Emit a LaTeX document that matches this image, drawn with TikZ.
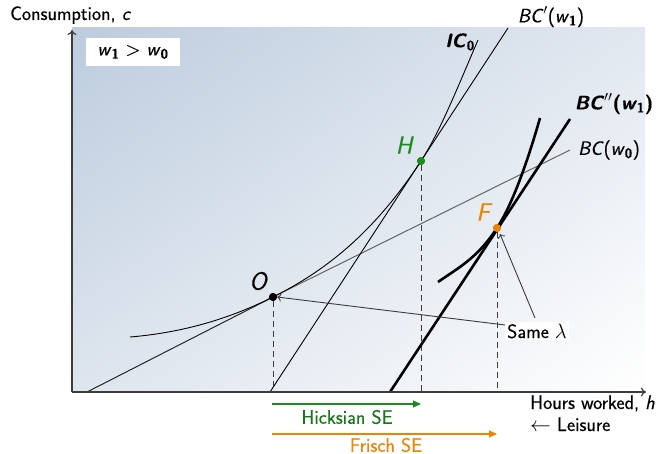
\documentclass[tikz,border=0pt]{standalone}
\usepackage{fontspec}
\setsansfont{Latin Modern Sans}[FakeBold=0.4]
\usetikzlibrary{arrows.meta,shadings}
\definecolor{hgreen}{RGB}{30,140,30}
\definecolor{forange}{RGB}{240,130,0}
\definecolor{axisgray}{RGB}{60,60,60}
\definecolor{bcgray}{RGB}{100,100,100}
\definecolor{bgUL}{RGB}{188,204,222}
\definecolor{bgUR}{RGB}{226,232,240}
\definecolor{bgLL}{RGB}{222,229,238}
\begin{document}
\begin{tikzpicture}[x=1pt,y=-1pt,
  lbl/.style={font=\sffamily\fontsize{19.5}{22}\selectfont, inner sep=1pt},
  ptlbl/.style={font=\sffamily\itshape\fontsize{25}{27}\selectfont, inner sep=1pt},
  axisline/.style={draw=axisgray, line width=1.2pt, -{To[length=5pt,width=9pt]}},
  fineline/.style={draw=black, line width=0.9pt},
  heavyline/.style={draw=black, line width=2.6pt},
  dropline/.style={draw=axisgray, line width=1pt, dash pattern=on 6pt off 4pt},
  pointer/.style={draw=axisgray, line width=0.9pt, -{To[length=4pt,width=8pt]}},
  seline/.style={line width=1.1pt, -{Triangle[length=8pt,width=7pt]}},
  dot/.style={circle, inner sep=0pt, minimum size=8pt},
]
\useasboundingbox (0,0) rectangle (658,454);
% background
\shade[upper left=bgUL, upper right=bgUR, lower left=bgLL, lower right=white] (72,28) rectangle (645,392);

% named coordinates
\coordinate (orig) at (72,392);
\coordinate (ytop) at (72,30);
\coordinate (xend) at (646,392);
\node[dot, fill=black] (O) at (273,297) {};
\node[dot, fill=hgreen] (H) at (421,161) {};
\node[dot, fill=forange] (F) at (497,228) {};
\coordinate (bc0a) at (87,392);
\coordinate (bc0b) at (570,150);
\coordinate (bc1a) at (270,392);
\coordinate (bc1b) at (508,28);
\coordinate (bc2a) at (390,392);
\coordinate (bc2b) at (570,119);
\coordinate (ica) at (130,337);
\coordinate (icb) at (478,40);
\coordinate (fca) at (438,282);
\coordinate (fcb) at (540,118);

% dashed drop lines
\draw[dropline] (O) -- (O |- orig);
\draw[dropline] (H) -- (H |- orig);
\draw[dropline] (F) -- (F |- orig);

% budget constraints
\draw[bcgray, line width=1pt] (O.center) -- (bc0b);
\draw[black!85, line width=1pt] (bc0a) -- (O.center);
\draw[fineline] (bc1a) -- (bc1b);
\draw[heavyline] (bc2a) -- (bc2b);

% indifference curve IC0
\draw[fineline] (ica) .. controls (178,333) and (225,321) .. (O.center)
  .. controls (322,272.5) and (372,236) .. (H.center)
  .. controls (440,132) and (459,84) .. (icb);
% Frisch curve
\draw[heavyline] (fca) .. controls (458,268) and (477,258.6) .. (F.center)
  .. controls (511,206.6) and (526,167) .. (fcb);

% axes
\draw[axisline] (orig) -- (ytop);
\draw[axisline] (orig) -- (xend);

% points again on top
\node[dot, fill=black] at (O) {};
\node[dot, fill=hgreen] at (H) {};
\node[dot, fill=forange] at (F) {};

% point labels
\node[ptlbl] (Olbl) at (258,281) {O};
\node[ptlbl, text=hgreen] (Hlbl) at (404,145) {H};
\node[ptlbl, text=forange] (Flbl) at (483,212) {F};

% curve labels
\node[lbl] (lbc1) at (551,17) {\textit{BC}$'$(\textit{w}\textsubscript{\textbf{1}})};
\node[lbl] (lic) at (460,42) {\textbf{\textit{IC}\textsubscript{0}}};
\node[lbl] (lbc2) at (614,104) {\textbf{\textit{BC}$''$(\textit{w}\textsubscript{1})}};
\node[lbl] (lbc0) at (609,150) {\textit{BC}(\textit{w}\textsubscript{\textbf{0}})};

% wage box
\node[lbl, fill=white, minimum width=94pt, minimum height=28pt] (wbox) at (133,52) {\textit{w}\textsubscript{\textbf{1}} \textgreater{} \textit{w}\textsubscript{\textbf{0}}};

% same lambda
\node[lbl, fill=white, inner sep=2pt] (same) at (537,331) {Same $\lambda$};
\draw[pointer] (same.west) ++(0,-6) -- (O.east);
\draw[pointer] (535,318) -- (500,234);

% axis labels
\node[lbl, anchor=base west] (ylab) at (9,20) {Consumption, \textit{c}};
\node[lbl, anchor=base west] (xlab) at (529,409) {Hours worked, \textit{h}};
\node[lbl, anchor=base west] (leis) at (529,431) {$\leftarrow$ Leisure};

% substitution effects
\coordinate (hs) at (272,404);
\coordinate (he) at (H |- hs);
\coordinate (fs) at (272,434);
\coordinate (fe) at (F |- fs);
\draw[seline, hgreen] (hs) -- (he);
\draw[seline, forange] (fs) -- (fe);
\node[lbl, text=hgreen!85!black] (hlab) at (347,417) {Hicksian SE};
\node[lbl, text=forange] (flab) at (386,445) {Frisch SE};
\end{tikzpicture}
\end{document}
